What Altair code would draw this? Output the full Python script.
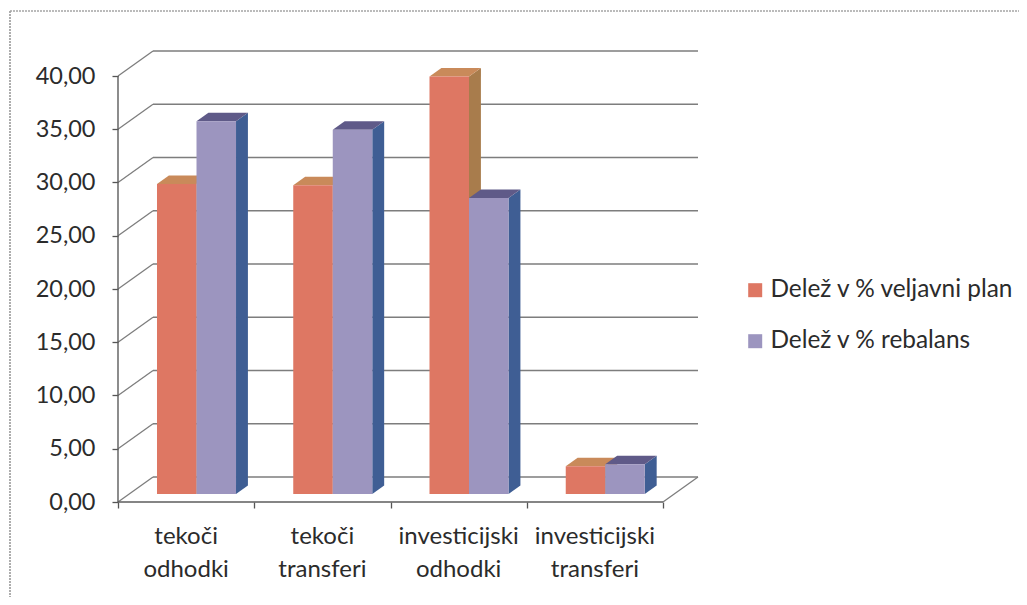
import altair as alt
import pandas as pd

categories = ["tekoči\nodhodki", "tekoči\ntransferi", "investicijski\nodhodki", "investicijski\ntransferi"]
plan = [29.1, 29.0, 39.2, 2.6]
rebalans = [35.0, 34.2, 27.8, 2.8]
y_ticks = [0, 5, 10, 15, 20, 25, 30, 35, 40]
series_names = ["Delež v % veljavni plan", "Delež v % rebalans"]

# layout of the drawing (3D projection, in pixels of the page)
X0, STEP, Y0, UNIT = 118.0, 136.25, 502.0, 10.65
DX, DY = 35 / STEP, 25 / UNIT      # depth of the wall, in data units
Z1, Z2 = 0.32, 0.66                # front and back of bars, as depth fraction
START, BW = 0.204, 0.29            # bar start in category, bar width

xs = alt.Scale(domain=[(8 - X0) / STEP, (1019 - X0) / STEP], range=[0, 1011], zero=False, nice=False)
ys = alt.Scale(domain=[(Y0 - 597) / UNIT, (Y0 - 8) / UNIT], range=[589, 0], zero=False, nice=False)
x_axis = alt.Axis(values=[0, 1, 2, 3, 4], labels=False, domain=False, grid=False, ticks=True,
                  tickColor="#555555", tickSize=6, tickWidth=1.3, offset=-95)
y_axis = alt.Axis(values=y_ticks, labelExpr="replace(format(datum.value, '.2f'), '.', ',')", domain=False, grid=False,
                  ticks=True, tickColor="#555555", tickSize=6, tickWidth=1.3, offset=-110, labelFont="Lato",
                  labelFontSize=23.5, labelColor="#2b2b2b", labelPadding=17)
X = lambda: alt.X("x:Q", scale=xs, axis=x_axis, title=None)
Y = lambda: alt.Y("y:Q", scale=ys, axis=y_axis, title=None)
X2, Y2 = alt.X2("x2:Q"), alt.Y2("y2:Q")

# walls
grid = []
for v in y_ticks:
    grid.append(dict(x=DX, x2=4 + DX, y=v + DY, y2=v + DY))
    grid.append(dict(x=0, x2=DX, y=v, y2=v + DY))
grid.append(dict(x=4, x2=4 + DX, y=0, y2=DY))
grid_layer = alt.Chart(pd.DataFrame(grid)).mark_rule(color="#7d7d7d", strokeWidth=1.3).encode(
    x=X(), x2=X2, y=Y(), y2=Y2)
axes_layer = alt.Chart(pd.DataFrame([dict(x=0, x2=4, y=0, y2=0), dict(x=0, x2=0, y=0, y2=40)])).mark_rule(
    color="#5c5c5c", strokeWidth=1.4).encode(x=X(), x2=X2, y=Y(), y2=Y2)


def faces(values, col_top, col_side, offset, name):
    front, top, side = [], [], []
    for i, v in enumerate(values):
        a = i + START + offset * BW
        b = a + BW
        base = 0.0
        fa, fb = a + Z1 * DX, b + Z1 * DX
        ba, bb = a + Z2 * DX, b + Z2 * DX
        vf, vb = v + Z1 * DY, v + Z2 * DY
        bf, bbk = base + Z1 * DY, base + Z2 * DY
        front.append(dict(x=fa, x2=fb, y=vf, y2=bf, s=name))
        top.append(dict(c=i, x=fa, x2=fb, y=vf))
        top.append(dict(c=i, x=ba, x2=bb, y=vb))
        side.append(dict(c=i, x=fb, y=vf, y2=bf))
        side.append(dict(c=i, x=bb, y=vb, y2=bbk))
    side_l = alt.Chart(pd.DataFrame(side)).mark_area(color=col_side, opacity=1).encode(x=X(), y=Y(), y2=Y2, detail="c:N")
    top_l = alt.Chart(pd.DataFrame(top)).mark_area(color=col_top, opacity=1, orient="horizontal").encode(
        x=X(), x2=X2, y=Y(), detail="c:N")
    front_l = alt.Chart(pd.DataFrame(front)).mark_rect().encode(
        x=X(), x2=X2, y=Y(), y2=Y2,
        color=alt.Color("s:N", scale=alt.Scale(domain=series_names, range=["#DE7763", "#9C95BF"]),
                        legend=alt.Legend(title=None, orient="none", legendX=735, legendY=270, symbolType="square",
                                          symbolSize=196, symbolStrokeWidth=0, labelFont="Lato", labelFontSize=24.4,
                                          labelColor="#2b2b2b", labelOffset=3, rowPadding=26, padding=0,
                                          labelLimit=300)),
    )
    return [side_l, top_l, front_l]


red = faces(plan, "#C98A5A", "#A87C4C", 0, series_names[0])
purple = faces(rebalans, "#5F5A88", "#3F5E94", 1, series_names[1])

label_y = (Y0 - 537) / UNIT
labels = alt.Chart(pd.DataFrame(dict(t=categories, x=[i + 0.5 for i in range(4)], y=[label_y] * 4))).mark_text(
    font="Lato", fontSize=24, color="#2b2b2b", lineBreak="\n", lineHeight=33, baseline="middle", align="center"
).encode(x=X(), y=Y(), text="t:N")

frame_left = alt.Chart(pd.DataFrame({"a": [0]})).mark_rule(color="#9a9a9a", strokeWidth=1.6, strokeDash=[2, 1]).encode(
    x=alt.value(2), y=alt.value(3), y2=alt.value(589))
frame_top = alt.Chart(pd.DataFrame({"a": [0]})).mark_rule(color="#a5a5a5", strokeWidth=1.4, strokeDash=[2, 1]).encode(
    y=alt.value(3), x=alt.value(2), x2=alt.value(1011))

chart = alt.layer(grid_layer, axes_layer, *red, *purple, labels, frame_left, frame_top).properties(
    width=1011, height=589, padding=0, autosize=alt.AutoSizeParams(type="none"), background="white"
).configure_view(stroke=None)

chart.save("out.html", embed_options={"renderer": "svg", "actions": False})
